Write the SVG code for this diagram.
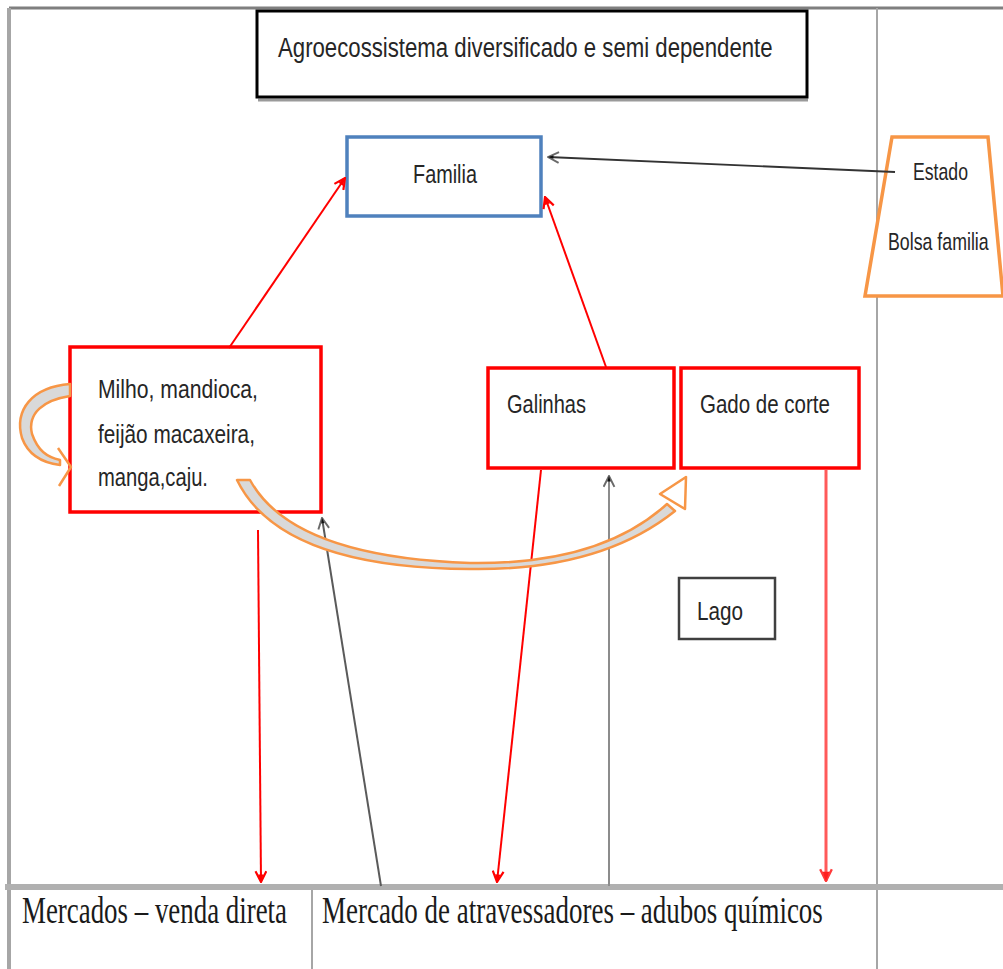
<svg xmlns="http://www.w3.org/2000/svg" width="1003" height="969" viewBox="0 0 1003 969">
  <style>
    .sans { font-family: "Liberation Sans", Arial, sans-serif; fill: #262626; }
    .serif { font-family: "Liberation Serif", "Times New Roman", serif; fill: #1a1a1a; }
    .redbox { fill: #ffffff; stroke: #ff0000; stroke-width: 3.5; }
    .red { stroke: #ff0000; stroke-width: 2; fill: none; }
    .grey { stroke: #5a5a5a; stroke-width: 2; fill: none; }
    .band { fill: #d9d9d9; stroke: #f79646; stroke-width: 2.5; stroke-linejoin: round; }
    .frame { stroke: #a6a6a6; fill: none; }
  </style>
  <defs>
    <marker id="arRed" viewBox="0 0 12 12" refX="11" refY="6" markerWidth="13" markerHeight="13" markerUnits="userSpaceOnUse" orient="auto">
      <path d="M1,1 L11,6 L1,11" fill="none" stroke="#ff0000" stroke-width="2"/>
      <path d="M4,3.5 L11,6 L4,8.5 Z" fill="#ff0000"/>
    </marker>
    <marker id="arPink" viewBox="0 0 12 12" refX="11" refY="6" markerWidth="14" markerHeight="14" markerUnits="userSpaceOnUse" orient="auto">
      <path d="M1,1 L11,6 L1,11" fill="none" stroke="#ff3b3b" stroke-width="2"/>
      <path d="M3,3 L11,6 L3,9 Z" fill="#ff1f1f"/>
    </marker>
    <marker id="arGrey" viewBox="0 0 12 12" refX="11" refY="6" markerWidth="13" markerHeight="13" markerUnits="userSpaceOnUse" orient="auto">
      <path d="M1,1 L11,6 L1,11" fill="none" stroke="#6a6a6a" stroke-width="1.8"/>
      <path d="M6,4.5 L11,6 L6,7.5 Z" fill="#111111"/>
    </marker>
  </defs>

  <rect width="1003" height="969" fill="#ffffff"/>

  <!-- page frame and bottom table -->
  <g id="frame">
    <line x1="9" y1="8" x2="1003" y2="8" stroke="#7f7f7f" stroke-width="3"/>
    <line x1="9" y1="8" x2="9" y2="969" class="frame" stroke-width="4"/>
    <line x1="877" y1="8" x2="877" y2="969" class="frame" stroke-width="2"/>
    <rect x="5" y="884" width="998" height="6" fill="#b0b0b0"/>
    <line x1="312" y1="890" x2="312" y2="969" class="frame" stroke-width="2"/>
  </g>

  <!-- condensed lettering: narrow each label horizontally -->
  <g id="title">
    <line x1="258" y1="100" x2="808" y2="100" stroke="#9a9a9a" stroke-width="3"/>
    <rect x="257" y="11" width="550" height="86" fill="#ffffff" stroke="#000000" stroke-width="3"/>
    <text class="sans" font-size="28" transform="translate(278,57) scale(0.793,1)">Agroecossistema diversificado e semi dependente</text>
  </g>

  <g id="familia">
    <rect x="347" y="137" width="194" height="79" fill="#ffffff" stroke="#4f81bd" stroke-width="3.5"/>
    <text class="sans" font-size="26" transform="translate(413,183) scale(0.764,1)">Familia</text>
  </g>

  <g id="estado">
    <polygon points="892,137 988,137 1003,296 865,296" fill="#ffffff" stroke="#f79646" stroke-width="3.5"/>
    <text class="sans" font-size="24" transform="translate(913,180) scale(0.736,1)">Estado</text>
    <text class="sans" font-size="24" transform="translate(888,250) scale(0.74,1)">Bolsa familia</text>
  </g>

  <g id="culturas">
    <rect x="70" y="347" width="251" height="165" class="redbox"/>
    <text class="sans" font-size="26" transform="translate(98,398) scale(0.814,1)">Milho, mandioca,</text>
    <text class="sans" font-size="26" transform="translate(98,443) scale(0.799,1)">feijão macaxeira,</text>
    <text class="sans" font-size="26" transform="translate(98,486) scale(0.777,1)">manga,caju.</text>
  </g>

  <g id="galinhas">
    <rect x="488" y="368" width="186" height="100" class="redbox"/>
    <text class="sans" font-size="26" transform="translate(507,413) scale(0.77,1)">Galinhas</text>
  </g>

  <g id="gado">
    <rect x="681" y="368" width="178" height="100" class="redbox"/>
    <text class="sans" font-size="26" transform="translate(700,413) scale(0.789,1)">Gado de corte</text>
  </g>

  <g id="lago">
    <rect x="679" y="578" width="96" height="61" fill="#ffffff" stroke="#404040" stroke-width="2.5"/>
    <text class="sans" font-size="26" transform="translate(697,620) scale(0.796,1)">Lago</text>
  </g>

  <g id="mercados">
    <text class="serif" font-size="37" transform="translate(22,923) scale(0.727,1)">Mercados – venda direta</text>
    <text class="serif" font-size="37" transform="translate(322,923) scale(0.729,1)">Mercado de atravessadores – adubos químicos</text>
  </g>

  <g id="connectors">
    <!-- flows up to the family -->
    <line x1="229" y1="348" x2="345" y2="178" class="red" marker-end="url(#arRed)"/>
    <line x1="606" y1="367" x2="545" y2="197" class="red" marker-end="url(#arRed)"/>
    <line x1="895" y1="172" x2="548" y2="157" stroke="#333333" stroke-width="1.8" marker-end="url(#arGrey)"/>

    <!-- sales down to the markets -->
    <line x1="258" y1="530" x2="261" y2="882" class="red" marker-end="url(#arRed)"/>
    <line x1="541" y1="470" x2="497" y2="882" class="red" marker-end="url(#arRed)"/>
    <line x1="826" y1="470" x2="826" y2="881" stroke="#ff5a5a" stroke-width="3" marker-end="url(#arPink)"/>

    <!-- inputs bought from middlemen -->
    <line x1="381" y1="886" x2="322" y2="518" class="grey" marker-end="url(#arGrey)"/>
    <line x1="609" y1="886" x2="609" y2="476" stroke="#8c8c8c" stroke-width="2" marker-end="url(#arGrey)"/>

    <!-- crop residues feeding the cattle -->
    <path class="band" d="M250,480 Q292,557 470,563 Q600,565 667,504 L675,511 Q600,571 470,569 Q280,568 237,480 Z"/>
    <polygon points="686,477 685,509 660,494" fill="#ffffff" stroke="#f79646" stroke-width="2.5" stroke-linejoin="round"/>

    <!-- recycling inside the crop plot -->
    <path class="band" d="M70,384 C32,387 14,410 22,438 C29,457 44,463 60,465 L60,460 C47,457 38,451 32,434 C27,413 44,400 70,396 Z"/>
    <polyline points="58,448 71,467 59,486" fill="none" stroke="#f79646" stroke-width="2.5" stroke-linejoin="round"/>
  </g>
</svg>
